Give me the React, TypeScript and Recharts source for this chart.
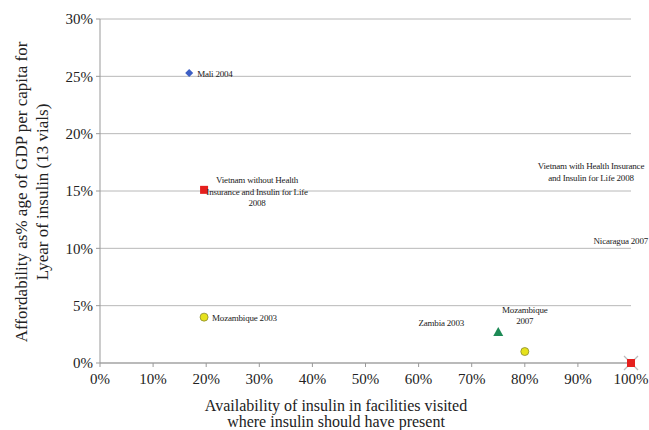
import React from 'react'
import { ScatterChart, Scatter, XAxis, YAxis, CartesianGrid, Label } from 'recharts'

// points (x: availability %, y: affordability %)
const names = ['Mali 2004', 'Vietnam without Health|Insurance and Insulin for Life|2008', 'Mozambique 2003', 'Zambia 2003', 'Mozambique|2007', 'Nicaragua 2007', 'Vietnam with Health Insurance|and Insulin for Life 2008', '']
const availability = [16.8, 19.6, 19.6, 75, 80, 100, 100, 100]
const affordability = [25.3, 15.1, 4.0, 2.7, 1.0, 10.5, 15, 0]
const markers = ['diamond', 'square', 'circle', 'triangle', 'circle', 'none', 'none', 'squareX']
// label placement relative to marker: dx, dy, anchor
const labelPos: [number, number, string][] = [
  [8, 1, 'start'],
  [53, -10, 'middle'],
  [8, 1, 'start'],
  [-57, -9, 'middle'],
  [0, -42, 'middle'],
  [17, -2, 'end'],
  [-40, -25, 'middle'],
  [0, 0, 'start'],
]

const xTicks = [0, 10, 20, 30, 40, 50, 60, 70, 80, 90, 100]
const yTicks = [0, 5, 10, 15, 20, 25, 30]

const data = names.map((n, i) => ({ name: n, x: availability[i], y: affordability[i], marker: markers[i], pos: labelPos[i] }))

const serif = '"Liberation Serif", "DejaVu Serif", serif'

function PointShape(props: any) {
  const { cx, cy, payload } = props
  const m = payload.marker
  let mark: React.ReactNode = null
  if (m === 'diamond') {
    mark = <polygon points={`${cx},${cy - 4} ${cx + 4},${cy} ${cx},${cy + 4} ${cx - 4},${cy}`} fill="#3d5fc4" />
  } else if (m === 'square') {
    mark = <rect x={cx - 4} y={cy - 4} width={8} height={8} fill="#e5201e" />
  } else if (m === 'circle') {
    mark = <circle cx={cx} cy={cy} r={4} fill="#e6e21c" stroke="#8a8a30" strokeWidth={0.8} />
  } else if (m === 'triangle') {
    mark = <polygon points={`${cx},${cy - 5} ${cx + 5},${cy + 4} ${cx - 5},${cy + 4}`} fill="#1d8a55" />
  } else if (m === 'squareX') {
    mark = (
      <g>
        <line x1={cx - 7} y1={cy - 7} x2={cx + 7} y2={cy + 7} stroke="#bbb" strokeWidth={1.2} />
        <line x1={cx - 7} y1={cy + 7} x2={cx + 7} y2={cy - 7} stroke="#bbb" strokeWidth={1.2} />
        <rect x={cx - 4} y={cy - 4} width={8} height={8} fill="#e5201e" />
      </g>
    )
  }
  const [dx, dy, anchor] = payload.pos
  const lines = payload.name ? payload.name.split('|') : []
  return (
    <g>
      {mark}
      {lines.map((l: string, i: number) => (
        <text key={i} x={cx + dx} y={cy + dy + i * 11.5} dy="0.35em" textAnchor={anchor} fontFamily={serif} fontSize={9} fill="#222" letterSpacing={-0.2}>
          {l}
        </text>
      ))}
    </g>
  )
}

function YTitle() {
  const cy = 192
  return (
    <g>
      <text transform={`translate(21, ${cy}) rotate(-90)`} textAnchor="middle" dy="0.35em" fontFamily={serif} fontSize={17} fill="#222">
        Affordability as% age of GDP per capita for
      </text>
      <text transform={`translate(42, ${cy}) rotate(-90)`} textAnchor="middle" dy="0.35em" fontFamily={serif} fontSize={17} fill="#222">
        Lyear of insulin (13 vials)
      </text>
    </g>
  )
}

function XTitle() {
  return (
    <g>
      <text x={336} y={405} textAnchor="middle" dy="0.35em" fontFamily={serif} fontSize={16} fill="#222">
        Availability of insulin in facilities visited
      </text>
      <text x={336} y={421} textAnchor="middle" dy="0.35em" fontFamily={serif} fontSize={16} fill="#222">
        where insulin should have present
      </text>
    </g>
  )
}

export default function App() {
  return (
    <div style={{ position: 'absolute', left: 0, top: 0, width: 649, height: 430, background: '#fff' }}>
      <ScatterChart width={649} height={430} margin={{ top: 19, right: 18, bottom: 0, left: 0 }}>
        <CartesianGrid horizontal vertical={false} stroke="#b8b8b8" />
        <XAxis
          type="number"
          dataKey="x"
          domain={[0, 100]}
          ticks={xTicks}
          height={67}
          tickFormatter={(v: number) => `${v}%`}
          tick={{ fontFamily: serif, fontSize: 15, fill: '#222' }}
          tickSize={4}
          tickMargin={6}
          stroke="#999"
        >
          <Label content={<XTitle />} />
        </XAxis>
        <YAxis
          type="number"
          dataKey="y"
          domain={[0, 30]}
          ticks={yTicks}
          width={100}
          tickFormatter={(v: number) => `${v}%`}
          tick={{ fontFamily: serif, fontSize: 15, fill: '#222' }}
          tickSize={4}
          tickMargin={3}
          stroke="#999"
        >
          <Label content={<YTitle />} />
        </YAxis>
        <Scatter data={data} shape={<PointShape />} isAnimationActive={false} />
      </ScatterChart>
    </div>
  )
}
